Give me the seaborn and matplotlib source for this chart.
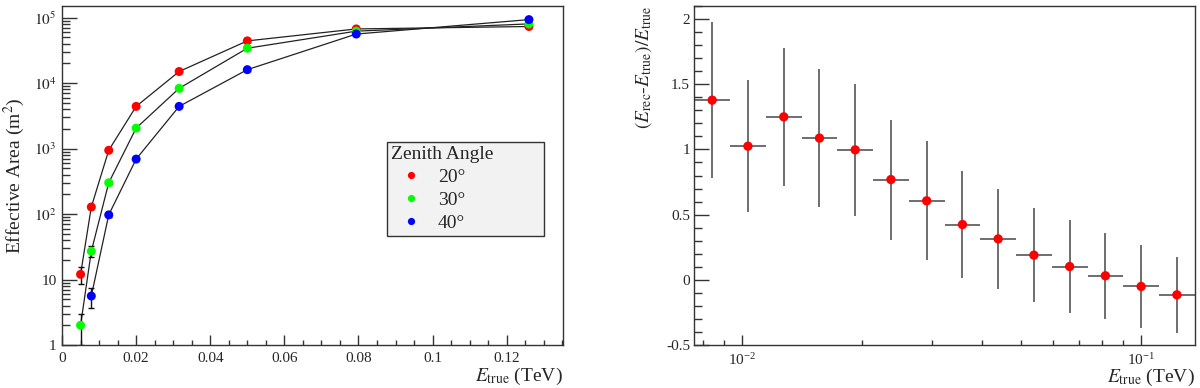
import numpy as np
import pandas as pd
import matplotlib
matplotlib.use("Agg")
import matplotlib.pyplot as plt
import matplotlib.ticker as mticker
import seaborn as sns

# ---- left panel: effective area vs true energy ----
energy = [0.005, 0.0079, 0.0126, 0.02, 0.0316, 0.05, 0.0794, 0.126]
area_20 = [12, 128, 940, 4400, 15000, 44000, 67000, 73000]
area_30 = [2.0, 27, 300, 2050, 8300, 34000, 62000, 80000]
area_40 = [np.nan, 5.6, 97, 690, 4400, 16000, 56000, 93000]
err_20 = [3.6, 8, 25, 60, 120, 200, 250, 270]
err_30 = [1.0, 5, 15, 40, 90, 180, 240, 280]
err_40 = [np.nan, 1.9, 8, 25, 60, 120, 230, 300]
zenith_labels = ["20°", "30°", "40°"]
zenith_colors = ["#ff0000", "#00ff00", "#0000ff"]
area_ticks = [1, 10, 100, 1000, 1e4, 1e5]
area_tick_labels = ["1", "10", "$10^{2}$", "$10^{3}$", "$10^{4}$", "$10^{5}$"]

# ---- right panel: energy bias ----
bin_center = [0.00843, 0.01036, 0.01274, 0.01565, 0.01923, 0.02363, 0.02904,
              0.03569, 0.04385, 0.05389, 0.06622, 0.08137, 0.1000, 0.1229]
bin_low = [0.007606, 0.009348, 0.01149, 0.01412, 0.01735, 0.02132, 0.02620,
           0.03220, 0.03957, 0.04862, 0.05975, 0.07342, 0.09022, 0.1109]
bin_high = [0.009348, 0.01149, 0.01412, 0.01735, 0.02132, 0.02620, 0.03220,
            0.03957, 0.04862, 0.05975, 0.07342, 0.09022, 0.1109, 0.1362]
bias = [1.378, 1.025, 1.25, 1.087, 0.997, 0.769, 0.606,
        0.424, 0.314, 0.189, 0.102, 0.031, -0.051, -0.115]
bias_err = [0.60, 0.506, 0.53, 0.53, 0.505, 0.46, 0.455,
            0.41, 0.383, 0.36, 0.355, 0.33, 0.315, 0.29]

sns.set_theme(style="white")
plt.rcParams["font.family"] = ["Liberation Serif", "DejaVu Serif"]
plt.rcParams["mathtext.fontset"] = "stix"
plt.rcParams["axes.unicode_minus"] = False

rows = []
for lab, area, err in zip(zenith_labels, [area_20, area_30, area_40], [err_20, err_30, err_40]):
    for e, a, s in zip(energy, area, err):
        if not np.isnan(a):
            rows.append({"energy": e, "area": a, "err": s, "zenith": lab})
df = pd.DataFrame(rows)

fig = plt.figure(figsize=(12, 3.88), dpi=100)
ax1 = fig.add_axes([0.0517, 0.1108, 0.4175, 0.8737])
ax2 = fig.add_axes([0.5786, 0.1108, 0.4170, 0.8737])

spine_col = "#333333"

# left
ax1.set_yscale("log")
sns.lineplot(data=df, x="energy", y="area", units="zenith", estimator=None,
             color="#222222", lw=0.9, ax=ax1, legend=False, zorder=1)
for lab in zenith_labels:
    d = df[df["zenith"] == lab]
    ax1.errorbar(d["energy"], d["area"], yerr=d["err"], fmt="none",
                 ecolor="#111111", elinewidth=1.0, capsize=2, zorder=2)
sns.scatterplot(data=df, x="energy", y="area", hue="zenith", palette=zenith_colors,
                s=42, edgecolor="none", ax=ax1, zorder=3)
ax1.set_xlim(0, 0.1352)
ax1.set_ylim(1, 1.5e5)
ax1.xaxis.set_major_locator(mticker.MultipleLocator(0.02))
ax1.xaxis.set_minor_locator(mticker.MultipleLocator(0.005))
ax1.xaxis.set_major_formatter(mticker.FuncFormatter(lambda v, p: f"{v:g}"))
ax1.yaxis.set_major_locator(mticker.FixedLocator(area_ticks))
ax1.yaxis.set_major_formatter(mticker.FixedFormatter(area_tick_labels))
ax1.yaxis.set_minor_locator(mticker.LogLocator(base=10, subs=range(2, 10), numticks=20))
ax1.yaxis.set_minor_formatter(mticker.NullFormatter())
ax1.set_ylabel("Effective Area (m$^2$)", fontsize=14, labelpad=5)
ax1.set_xlabel(r"$E_{\rm true}$ (TeV)", fontsize=14, loc="right", labelpad=1)

sns.move_legend(ax1, "upper left", bbox_to_anchor=(0.649, 0.3245, 0.312, 0.275),
                mode="expand", title="Zenith Angle", fontsize=14, title_fontsize=14,
                frameon=True, fancybox=False, borderpad=0.2, labelspacing=0.28,
                handletextpad=0.4, borderaxespad=0, alignment="left", markerscale=0.8)
leg = ax1.get_legend()
leg.get_frame().set_facecolor("#f2f2f2")
leg.get_frame().set_edgecolor(spine_col)
leg.get_frame().set_linewidth(1.0)
leg.get_frame().set_alpha(1)

# right
ax2.set_xscale("log")
xerr = [np.array(bin_center) - np.array(bin_low), np.array(bin_high) - np.array(bin_center)]
ax2.errorbar(bin_center, bias, xerr=xerr, yerr=bias_err, fmt="none",
             ecolor="#555555", elinewidth=1.2, capsize=0, zorder=2)
sns.scatterplot(x=bin_center, y=bias, color="#ff0000", s=45, edgecolor="none",
                ax=ax2, zorder=3)
ax2.set_xlim(bin_low[0], bin_high[-1])
ax2.set_ylim(-0.5, 2.1)
ax2.yaxis.set_major_locator(mticker.MultipleLocator(0.5))
ax2.yaxis.set_minor_locator(mticker.MultipleLocator(0.1))
ax2.yaxis.set_major_formatter(mticker.FuncFormatter(lambda v, p: f"{v:g}"))
ax2.xaxis.set_major_locator(mticker.LogLocator(base=10, numticks=10))
ax2.xaxis.set_major_formatter(mticker.LogFormatterMathtext())
ax2.xaxis.set_minor_locator(mticker.LogLocator(base=10, subs=range(2, 10), numticks=20))
ax2.xaxis.set_minor_formatter(mticker.NullFormatter())
ax2.set_ylabel(r"$(E_{\rm rec}$-$E_{\rm true})/E_{\rm true}$", fontsize=14,
               loc="top", labelpad=9)
ax2.set_xlabel(r"$E_{\rm true}$ (TeV)", fontsize=14, loc="right", labelpad=-1)

for ax, ypad in ((ax1, 4), (ax2, 3)):
    ax.tick_params(axis="y", which="major", direction="in", left=True, length=11, width=1,
                   pad=ypad, labelsize=11, color=spine_col)
    ax.tick_params(axis="y", which="minor", direction="in", left=True, length=5.5, width=1,
                   color=spine_col)
    ax.tick_params(axis="x", which="major", direction="in", bottom=True, length=7, width=1,
                   pad=5, labelsize=11, color=spine_col)
    ax.tick_params(axis="x", which="minor", direction="in", bottom=True, length=3.6, width=1,
                   color=spine_col)
    for sp in ax.spines.values():
        sp.set_color(spine_col)
        sp.set_linewidth(1.0)

fig.savefig("out.png", dpi=100)
plt.close(fig)
